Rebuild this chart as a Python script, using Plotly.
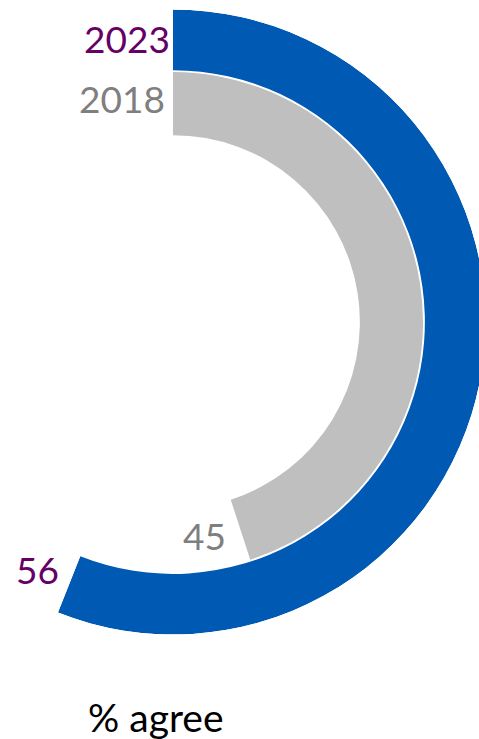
import math
import plotly.graph_objects as go

# ---- data ----
years = ["2023", "2018"]
values = [56, 45]          # % agree
bar_colors = ["#0059B2", "#BFBFBF"]
text_colors = ["#660066", "#7F7F7F"]
axis_title = "% agree"

W, H = 487, 739
FONT = "Lato"

# radial placement of rings (radial axis units, 0..1)
ring_base = [0.806, 0.598]
ring_len = [0.194, 0.202]

fig = go.Figure()
for yr, v, c, b, L in zip(years, values, bar_colors, ring_base, ring_len):
    fig.add_trace(go.Barpolar(
        r=[L], base=[b],
        theta=[v * 3.6 / 2], width=[v * 3.6],
        marker=dict(color=c, line=dict(width=0)),
        name=yr, hoverinfo="skip", showlegend=False,
    ))

max_deg = max(values) * 3.6
sector = [90 - max_deg, 90]

# centre of rings and outer radius (px, figure coords)
cx_px, cy_px, Rpx = 173.0, 322.0, 312.5
x0b = min(math.cos(math.radians(sector[0])), 0)
left_px = cx_px + x0b * Rpx
right_px = cx_px + Rpx
top_px, bot_px = cy_px - 314, cy_px + 314

fig.update_layout(
    width=W, height=H,
    margin=dict(l=0, r=0, t=0, b=0),
    paper_bgcolor="white",
    font=dict(family=FONT),
    barmode="overlay",
    polar=dict(
        domain=dict(x=[left_px / W, right_px / W],
                    y=[max(0, (H - bot_px) / H), min(1, (H - top_px) / H)]),
        sector=sector,
        bgcolor="rgba(0,0,0,0)",
        angularaxis=dict(visible=False, direction="clockwise", rotation=90),
        radialaxis=dict(visible=False, range=[0, 1]),
    ),
)

ann = []
year_pos = [(172, 38), (167, 98)]
for yr, tc, (x, y) in zip(years, text_colors, year_pos):
    ann.append(dict(text=yr, x=x / W, y=1 - y / H, xref="paper", yref="paper",
                    xanchor="right", yanchor="middle", showarrow=False,
                    font=dict(size=37, color=tc, family=FONT)))
val_pos = [(61, 569), (228, 535)]
for v, tc, (x, y) in zip(values, text_colors, val_pos):
    ann.append(dict(text=str(v), x=x / W, y=1 - y / H, xref="paper", yref="paper",
                    xanchor="right", yanchor="middle", showarrow=False,
                    font=dict(size=37, color=tc, family=FONT)))
ann.append(dict(text=axis_title, x=156 / W, y=1 - 717 / H, xref="paper", yref="paper",
                xanchor="center", yanchor="middle", showarrow=False,
                font=dict(size=39, color="#000000", family=FONT)))
fig.update_layout(annotations=ann)

fig.write_html(
    "out.html",
    config={"displayModeBar": False, "staticPlot": True},
    post_script="document.documentElement.style.overflow='hidden';"
                "document.body.style.overflow='hidden';"
                "document.body.style.margin='0';",
)
